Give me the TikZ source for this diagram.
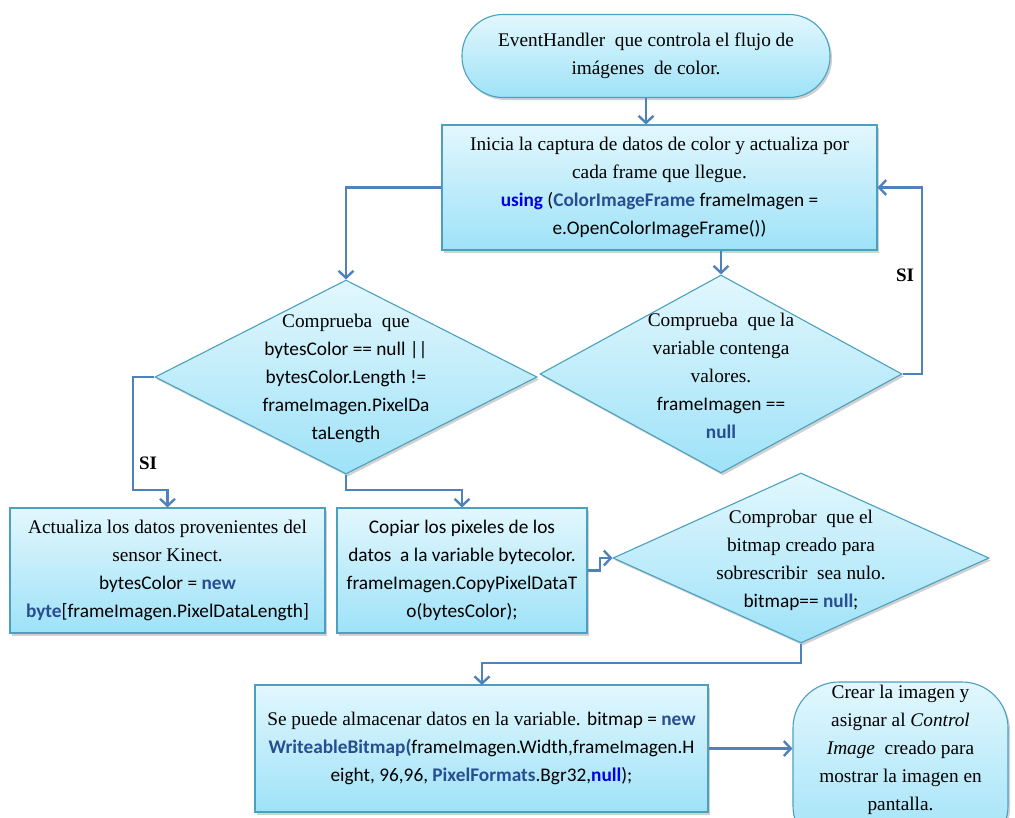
\documentclass[tikz,border=0pt]{standalone}
\usepackage{fontspec}
\setmainfont{Liberation Serif}
\newfontfamily\codefont{Carlito}
\usetikzlibrary{arrows.meta,shapes.geometric,shadows}

\definecolor{edge}{RGB}{75,160,192}
\definecolor{flow}{RGB}{79,129,189}
\definecolor{fillTop}{RGB}{226,247,253}
\definecolor{fillBot}{RGB}{158,226,248}
\definecolor{kwblue}{RGB}{0,0,225}
\definecolor{tyblue}{RGB}{40,78,145}

\newcommand{\kwd}[1]{\textbf{\textcolor{kwblue}{#1}}}
\newcommand{\typ}[1]{\textbf{\textcolor{tyblue}{#1}}}

\begin{document}
\begin{tikzpicture}[x=1pt,y=-1pt,
  every node/.style={font=\fontsize{19.3}{28}\selectfont, align=center, inner sep=0pt},
  panel/.style={draw=edge, line width=1.1pt, top color=fillTop, bottom color=fillBot,
    drop shadow={shadow xshift=2pt, shadow yshift=-2.5pt, opacity=0.3, fill=black!60}},
  procbox/.style={panel, rectangle},
  decision/.style={panel, diamond},
  terminal/.style={panel, rectangle},
  flowline/.style={draw=flow, line width=2.8pt, line join=miter,
    -{Straight Barb[length=7pt,width=15pt,line width=2.4pt]}},
  yeslabel/.style={font=\bfseries\fontsize{19}{20}\selectfont}]

\useasboundingbox (0,0) rectangle (1015,817);
\clip (0,0) rectangle (1015,817);

% start terminal
\node[terminal, rounded corners=41pt, minimum width=368pt, minimum height=83pt] (t1) at (646,56)
  {EventHandler\ \ que controla el flujo de\\imágenes\ \ de color.};

% capture loop
\node[procbox, minimum width=435pt, minimum height=125pt] (b2) at (659.5,187.5)
  {Inicia la captura de datos de color y actualiza por\\cada frame que llegue.\\
   {\codefont\kwd{using} (\typ{ColorImageFrame} frameImagen =}\\
   {\codefont e.OpenColorImageFrame())}};

% decisions
\node[decision, minimum width=382pt, minimum height=194pt] (d1) at (346,377) {};
\node at (346,378)
  {Comprueba\ \ que\\
   {\codefont bytesColor == null ||}\\
   {\codefont bytesColor.Length !=}\\
   {\codefont frameImagen.PixelDa}\\
   {\codefont taLength}};

\node[decision, minimum width=362pt, minimum height=198pt] (d2) at (721,374) {};
\node at (721,376)
  {Comprueba\ \ que la\\variable contenga\\valores.\\
   {\codefont frameImagen ==}\\
   {\codefont\typ{null}}};

% processing boxes
\node[procbox, minimum width=315pt, minimum height=125pt] (b3) at (167.5,570.5)
  {Actualiza los datos provenientes del\\sensor Kinect.\\
   {\codefont bytesColor = \typ{new}}\\
   {\codefont\typ{byte}[frameImagen.PixelDataLength]}};

\node[procbox, minimum width=250pt, minimum height=125pt] (b4) at (462,570.5)
  {\codefont Copiar los pixeles de los\\
   \codefont datos\ \ a la variable bytecolor.\\
   \codefont frameImagen.CopyPixelDataT\\
   \codefont o(bytesColor);};

\node[decision, minimum width=376pt, minimum height=170pt] (d3) at (801,558) {};
\node at (801,560)
  {Comprobar\ \ que el\\bitmap creado para\\sobrescribir\ \ sea nulo.\\
   {\codefont bitmap== \typ{null};}};

\node[procbox, minimum width=453pt, minimum height=127pt] (b5) at (481.5,748.5)
  {\fontsize{19.3}{30}\selectfont Se puede almacenar datos en la variable. {\codefont bitmap = \typ{new}}\\
   {\codefont\typ{WriteableBitmap(}frameImagen.Width,frameImagen.H}\\
   {\codefont eight, 96,96, \typ{PixelFormats}.Bgr32,\kwd{null});}};

% end terminal (runs past the lower edge)
\node[terminal, rounded corners=46pt, minimum width=215pt, minimum height=170pt] (t2) at (900.5,767) {};
\node at (900.5,750)
  {\fontsize{19.3}{27}\selectfont Crear la imagen y\\asignar al \textit{Control}\\\textit{Image}\ \ creado para\\
   mostrar la imagen en\\pantalla.};

% connectors
\draw[flowline] (t1.south) -- (t1.south |- b2.north);
\draw[flowline] (b2.west) -| (d1.north);
\draw[flowline] (b2.south -| d2.north) -- (d2.north);
\draw[flowline] (d2.east) -- (922,374) |- (b2.east);
\node[yeslabel] (si1) at (905,275) {SI};
\draw[flowline] (d1.west) -- (133,377) -- (133,490) -- (167.5,490) -- (b3.north);
\node[yeslabel] (si2) at (148,463) {SI};
\draw[flowline] (d1.south) -- (346,490) -- (462,490) -- (b4.north);
\draw[flowline] (b4.east) -- (600,570.5) -- (600,558) -- (d3.west);
\draw[flowline] (d3.south) -- (801,663) -- (482,663) -- (482,685);
\draw[flowline] (b5.east) -- (b5.east -| t2.west);

\end{tikzpicture}
\end{document}
